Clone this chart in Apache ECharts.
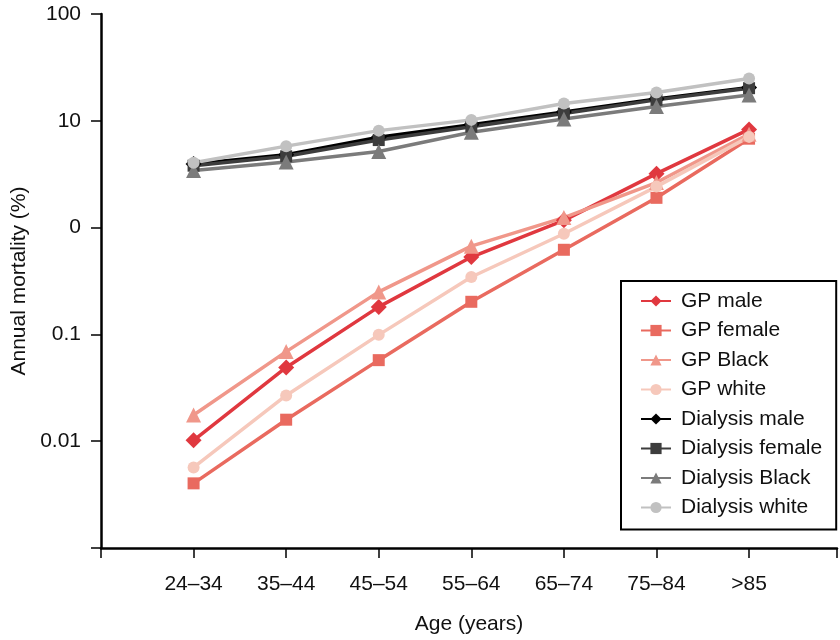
<!DOCTYPE html>
<html><head><meta charset="utf-8">
<script src="https://cdn.jsdelivr.net/npm/echarts@6/dist/echarts.min.js"></script>
<style>html,body{margin:0;padding:0;background:#fff}#c{width:840px;height:640px}</style>
</head><body><div id="c"></div>
<script>
const categories = ['24–34','35–44','45–54','55–64','65–74','75–84','>85'];
const gpMale = [0.0102, 0.049, 0.181, 0.53, 1.17, 3.2, 8.3];
const gpFemale = [0.00403, 0.0159, 0.0574, 0.202, 0.62, 1.9, 6.8];
const gpBlack = [0.0176, 0.069, 0.25, 0.67, 1.24, 2.64, 7.5];
const gpWhite = [0.00568, 0.0268, 0.099, 0.345, 0.876, 2.42, 7.07];
const dMale = [3.95, 4.8, 7.0, 9.2, 12.1, 16.0, 20.5];
const dFemale = [3.8, 4.65, 6.6, 8.8, 11.7, 15.7, 20.2];
const dBlack = [3.43, 4.11, 5.16, 7.82, 10.4, 13.6, 17.4];
const dWhite = [4.05, 5.79, 8.09, 10.2, 14.55, 18.4, 24.9];
const yTickLabels = {'2':'100','1':'10','0':'0','-1':'0.1','-2':'0.01','-3':''};

const seriesDefs = [
  {name:'GP male', data:gpMale, color:'#e0383f', symbol:'diamond', size:16},
  {name:'GP female', data:gpFemale, color:'#e96a5f', symbol:'rect', size:12},
  {name:'GP Black', data:gpBlack, color:'#f0978a', symbol:'triangle', size:15},
  {name:'GP white', data:gpWhite, color:'#f6c8bb', symbol:'circle', size:12},
  {name:'Dialysis male', data:dMale, color:'#000000', symbol:'diamond', size:16},
  {name:'Dialysis female', data:dFemale, color:'#3d3d3d', symbol:'rect', size:12},
  {name:'Dialysis Black', data:dBlack, color:'#7b7b7b', symbol:'triangle', size:15},
  {name:'Dialysis white', data:dWhite, color:'#c1c1c1', symbol:'circle', size:12}
];

const chart = echarts.init(document.getElementById('c'), null, {renderer:'canvas'});
const font = 'Liberation Sans, Arial, Helvetica, sans-serif';
chart.setOption({
  animation:false,
  textStyle:{fontFamily:font},
  grid:{left:101, top:14, right:0, bottom:87, containLabel:false},
  xAxis:{
    type:'value', min:0, max:7.95, interval:1,
    name:'Age (years)', nameLocation:'middle', nameGap:66,
    nameTextStyle:{fontSize:21, color:'#111', fontFamily:font},
    axisLine:{show:true, lineStyle:{color:'#000', width:2.5}},
    axisTick:{show:true, length:10, inside:false, lineStyle:{color:'#000', width:1.5}},
    axisLabel:{fontSize:21, color:'#111', margin:26, fontFamily:font,
      formatter:function(v){ const i=Math.round(v); return (i>=1 && i<=categories.length)?categories[i-1]:''; }},
    splitLine:{show:false}
  },
  yAxis:{
    type:'log', logBase:10, min:0.001, max:100,
    name:'Annual mortality (%)', nameLocation:'middle', nameGap:67,
    nameTextStyle:{fontSize:21, color:'#111', fontFamily:font},
    axisLine:{show:true, lineStyle:{color:'#000', width:2.5}},
    axisTick:{show:true, length:10, lineStyle:{color:'#000', width:1.5}},
    axisLabel:{fontSize:21, color:'#111', margin:20, fontFamily:font,
      formatter:function(v){ const e=Math.round(Math.log10(v)); const s=yTickLabels[String(e)]; return s===undefined?'':s; }},
    splitLine:{show:false}
  },
  legend:{
    orient:'vertical', left:621, top:281,
    borderColor:'#000', borderWidth:2, borderRadius:0,
    padding:[8,14,10,19],
    itemWidth:30, itemHeight:14, itemGap:5.5,
    textStyle:{fontSize:21, color:'#111', fontFamily:font, lineHeight:24, padding:[0,0,0,5]},
    data:seriesDefs.map(s=>s.name)
  },
  series:seriesDefs.map(s=>({
    name:s.name, type:'line',
    data:s.data.map((v,i)=>[i+1,v]),
    symbol:s.symbol, symbolSize:s.size,
    showAllSymbol:true,
    lineStyle:{color:s.color, width:3.5},
    itemStyle:{color:s.color},
    emphasis:{disabled:true}
  }))
});
</script></body></html>
